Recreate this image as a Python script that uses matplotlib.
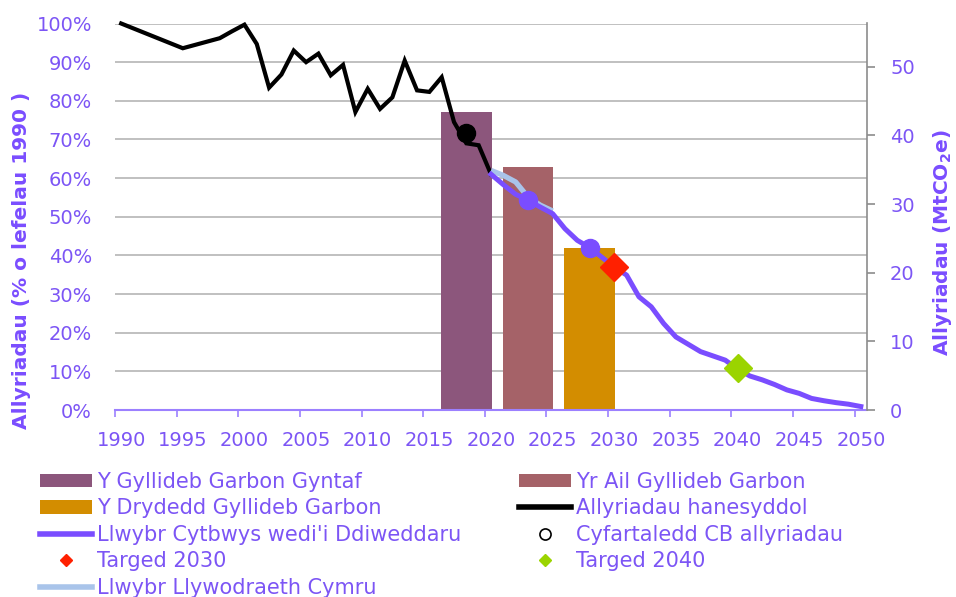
import matplotlib
matplotlib.use("Agg")
import matplotlib.pyplot as plt
from matplotlib.patches import Patch
from matplotlib.lines import Line2D
from matplotlib.ticker import FuncFormatter

plt.rcParams['font.family'] = ['DejaVu Sans']
plt.rcParams['mathtext.fontset'] = 'dejavusans'

# historical emissions (% of 1990)
hist_years = [1990, 1995, 1998, 1999, 2000, 2001, 2002, 2003, 2004, 2005, 2006, 2007,
              2008, 2009, 2010, 2011, 2012, 2013, 2014, 2015, 2016, 2017, 2018, 2019, 2020]
hist_vals = [100, 93.6, 96.2, 98.0, 99.7, 94.7, 83.4, 86.8, 93.0, 90.0, 92.2, 86.6,
             89.3, 77.1, 83.1, 77.9, 80.9, 90.4, 82.7, 82.3, 86.1, 74.5, 69.0, 68.5, 61.0]

# updated balanced pathway
path_years = list(range(2020, 2051))
path_vals = [61.0, 58.3, 55.8, 54.3, 52.5, 50.8, 46.9, 43.9, 42.0, 39.5, 37.0,
             34.9, 29.3, 26.7, 22.4, 18.9, 17.0, 15.1, 14.0, 12.9, 10.6,
             8.8, 7.8, 6.6, 5.2, 4.3, 3.0, 2.4, 1.9, 1.5, 0.9]

# Welsh Government pathway
wg_years = [2020, 2021, 2022, 2023, 2024, 2025]
wg_vals = [62.0, 60.7, 59.0, 55.1, 53.0, 51.5]

# carbon budgets
budget_labels = ['Y Gyllideb Garbon Gyntaf', 'Yr Ail Gyllideb Garbon', 'Y Drydedd Gyllideb Garbon']
budget_mid = [2018, 2023, 2028]
budget_vals = [77, 63, 42]
budget_colors = ['#8C567C', '#A56268', '#D38D00']

# averages / targets
cb_avg_years = [2018]
cb_avg_vals = [71.7]
path_avg_years = [2023, 2028]
path_avg_vals = [54.3, 42.0]
target_years = [2030, 2040]
target_vals = [37.0, 10.9]

year_ticks = list(range(1990, 2051, 5))

purple = '#7A4DFF'
txt = '#7C55F5'
lightblue = '#A9C4EA'

fig = plt.figure(figsize=(9.56, 5.97), dpi=100)
ax = fig.add_axes([115/956, 1-410/597, 752/956, 386.5/597])

for m, v, c in zip(budget_mid, budget_vals, budget_colors):
    ax.bar(m, v, width=4.1, color=c, zorder=2)

ax.plot(hist_years, hist_vals, color='black', lw=3.0, zorder=4, clip_on=False, solid_joinstyle='miter')
ax.plot(wg_years, wg_vals, color=lightblue, lw=3.8, zorder=4, solid_capstyle='butt')
ax.plot(path_years, path_vals, color=purple, lw=3.6, zorder=5)
ax.plot(cb_avg_years, cb_avg_vals, 'o', color='black', ms=13, zorder=6)
ax.plot(path_avg_years, path_avg_vals, 'o', color=purple, ms=13, zorder=6)
ax.plot(target_years[:1], target_vals[:1], 'D', color='#FF2000', ms=14, zorder=7)
ax.plot(target_years[1:], target_vals[1:], 'D', color='#9BD400', ms=14, zorder=7)

ax.set_xlim(1989.5, 2050.5)
ax.set_ylim(0, 100)
ax.set_yticks(range(0, 101, 10))
ax.yaxis.set_major_formatter(FuncFormatter(lambda v, p: f'{int(v)}%'))
ax.grid(axis='y', color='#B5B5B5', lw=1.2, zorder=0)
ax.set_axisbelow(True)
ax.tick_params(axis='y', length=0, pad=16.5, labelsize=14, labelcolor=txt)

ax.set_xticks([y - 0.5 for y in year_ticks])
ax.set_xticklabels([])
ax.set_xticks(year_ticks, minor=True)
ax.set_xticklabels([str(y) for y in year_ticks], minor=True)
ax.tick_params(axis='x', which='major', length=5, width=1.2, color='#9C80FF', direction='out')
ax.tick_params(axis='x', which='minor', length=0, pad=15, labelsize=14, labelcolor=txt)

for s in ['top', 'left', 'right']:
    ax.spines[s].set_visible(False)
ax.spines['bottom'].set_color('#9C80FF')
ax.spines['bottom'].set_linewidth(1.5)

ax2 = ax.twinx()
ax2.set_ylim(0, 56.3)
ax2.set_yticks(range(0, 51, 10))
for s in ['top', 'left', 'bottom']:
    ax2.spines[s].set_visible(False)
ax2.spines['right'].set_color('#8C8C8C')
ax2.spines['right'].set_linewidth(1.2)
ax2.tick_params(axis='y', length=5.8, width=1.2, color='#8C8C8C', pad=10.8, labelsize=14, labelcolor=txt)

fig.text(22/956, 1-260/597, 'Allyriadau (% o lefelau 1990 )', rotation=90, ha='center', va='center',
         fontsize=14.5, fontweight='bold', color=purple)
fig.text(942/956, 1-243/597, r'Allyriadau (MtCO$_\mathbf{2}$e)', rotation=90, ha='center', va='center',
         fontsize=14.5, fontweight='bold', color=purple)

h_bar = [Patch(facecolor=c) for c in budget_colors]
h_hist = Line2D([], [], color='black', lw=4)
h_path = Line2D([], [], color=purple, lw=4)
h_avg = Line2D([], [], ls='none', marker='o', mfc='none', mec='black', ms=8, mew=1.2)
h_t30 = Line2D([], [], ls='none', marker='D', color='#FF2000', ms=6)
h_t40 = Line2D([], [], ls='none', marker='D', color='#9BD400', ms=6)
h_wg = Line2D([], [], color=lightblue, lw=4)

handles = [h_bar[0], h_bar[2], h_path, h_t30, h_wg, h_bar[1], h_hist, h_avg, h_t40]
labels = [budget_labels[0], budget_labels[2], "Llwybr Cytbwys wedi'i Ddiweddaru", 'Targed 2030',
          'Llwybr Llywodraeth Cymru', budget_labels[1], 'Allyriadau hanesyddol',
          'Cyfartaledd CB allyriadau', 'Targed 2040']
fig.legend(handles, labels, ncol=2, loc='upper left', bbox_to_anchor=(40/956, 1-472/597),
           frameon=False, fontsize=15, labelcolor=txt, handlelength=2.5, handleheight=0.6,
           handletextpad=0.22, labelspacing=0.31, columnspacing=2.8, borderaxespad=0, borderpad=0)

fig.savefig('out.png', dpi=100)
